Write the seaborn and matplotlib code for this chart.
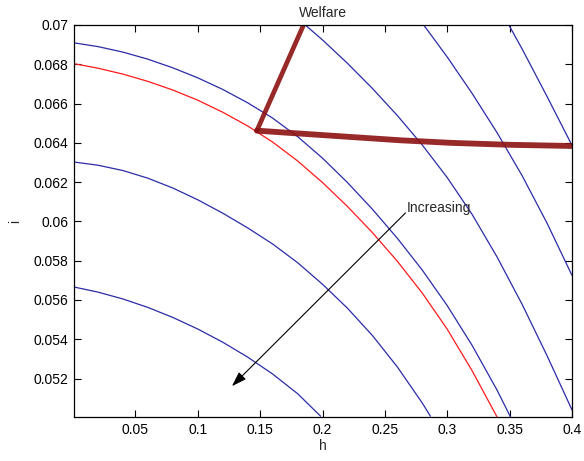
import numpy as np
import pandas as pd
import matplotlib
matplotlib.use("Agg")
import matplotlib.pyplot as plt
import seaborn as sns

# Welfare contour levels, traced as (h, i) pairs
curve_e_h = [0.0, 0.02, 0.04, 0.06, 0.08, 0.10, 0.12, 0.14, 0.16, 0.18, 0.1985]
curve_e_i = [0.05667, 0.05640, 0.05605, 0.05562, 0.05511, 0.05452, 0.05385,
             0.05309, 0.05223, 0.05123, 0.05008]

curve_d_h = [0.0, 0.02, 0.04, 0.06, 0.08, 0.10, 0.12, 0.14, 0.16, 0.18, 0.20,
             0.22, 0.24, 0.26, 0.28, 0.2865]
curve_d_i = [0.06303, 0.06286, 0.06259, 0.06220, 0.06170, 0.06110, 0.06042,
             0.05967, 0.05885, 0.05790, 0.05680, 0.05558, 0.05419, 0.05259,
             0.05075, 0.05008]

curve_r_h = [0.0, 0.02, 0.04, 0.06, 0.08, 0.10, 0.12, 0.14, 0.16, 0.18, 0.20,
             0.22, 0.24, 0.26, 0.28, 0.30, 0.32, 0.34]
curve_r_i = [0.06804, 0.06780, 0.06750, 0.06713, 0.06669, 0.06617, 0.06556,
             0.06486, 0.06404, 0.06308, 0.06198, 0.06076, 0.05943, 0.05797,
             0.05635, 0.05451, 0.05239, 0.05003]

curve_a_h = [0.0, 0.02, 0.04, 0.06, 0.08, 0.10, 0.12, 0.14, 0.16, 0.18, 0.20,
             0.22, 0.24, 0.26, 0.28, 0.30, 0.32, 0.34, 0.3507]
curve_a_i = [0.06910, 0.06890, 0.06862, 0.06826, 0.06782, 0.06731, 0.06672,
             0.06604, 0.06526, 0.06432, 0.06322, 0.06198, 0.06062, 0.05914,
             0.05752, 0.05571, 0.05368, 0.05140, 0.05004]

curve_b_h = [0.1862, 0.20, 0.22, 0.24, 0.26, 0.28, 0.30, 0.32, 0.34, 0.36,
             0.38, 0.40]
curve_b_i = [0.0700, 0.06924, 0.06805, 0.06677, 0.06539, 0.06389, 0.06223,
             0.06035, 0.05818, 0.05578, 0.05316, 0.05040]

curve_c_h = [0.2811, 0.30, 0.32, 0.34, 0.36, 0.38, 0.40]
curve_c_i = [0.0700, 0.06837, 0.06651, 0.06451, 0.06233, 0.05991, 0.05725]

curve_f_h = [0.3494, 0.36, 0.38, 0.40]
curve_f_i = [0.0700, 0.06878, 0.06636, 0.06387]

# Policy path (thick line)
path_up_h = [0.1474, 0.1848]
path_up_i = [0.06462, 0.0700]
path_flat_h = [0.1474, 0.18, 0.2223, 0.2624, 0.3026, 0.35, 0.40]
path_flat_i = [0.06462, 0.06448, 0.06430, 0.06413, 0.06400, 0.06390, 0.06384]

x_ticks = [0.05, 0.1, 0.15, 0.2, 0.25, 0.3, 0.35, 0.4]
x_tick_labels = ["0.05", "0.1", "0.15", "0.2", "0.25", "0.3", "0.35", "0.4"]
y_ticks = [0.052, 0.054, 0.056, 0.058, 0.06, 0.062, 0.064, 0.066, 0.068, 0.07]
y_tick_labels = ["0.052", "0.054", "0.056", "0.058", "0.06", "0.062", "0.064",
                 "0.066", "0.068", "0.07"]

sns.set_style("ticks")
plt.rcParams["font.family"] = ["Liberation Sans", "DejaVu Sans"]

fig = plt.figure(figsize=(5.84, 4.61), dpi=100)
ax = fig.add_axes([74 / 584, 44 / 461, 498 / 584, 392 / 461])

blue = "#2b2ba8"
contours = [
    (curve_e_h, curve_e_i, blue),
    (curve_d_h, curve_d_i, blue),
    (curve_r_h, curve_r_i, "#ff1a1a"),
    (curve_a_h, curve_a_i, blue),
    (curve_b_h, curve_b_i, blue),
    (curve_c_h, curve_c_i, blue),
    (curve_f_h, curve_f_i, blue),
]
for hs, is_, col in contours:
    df = pd.DataFrame({"h": hs, "i": is_})
    sns.lineplot(data=df, x="h", y="i", color=col, linewidth=0.9, ax=ax,
                 estimator=None, sort=False)

path_col = "#8c1212"
for hs, is_, lw in [(path_up_h, path_up_i, 3.4), (path_flat_h, path_flat_i, 4.2)]:
    df = pd.DataFrame({"h": hs, "i": is_})
    sns.lineplot(data=df, x="h", y="i", color=path_col, linewidth=lw, ax=ax,
                 estimator=None, sort=False, alpha=0.9)

ax.annotate("", xy=(0.1274, 0.05161), xytext=(0.2665, 0.06043),
            arrowprops=dict(arrowstyle="-|>,head_length=0.9,head_width=0.3",
                            color="black", lw=0.8, shrinkA=0, shrinkB=0))
ax.text(0.2673, 0.06070, "Increasing", fontsize=10, ha="left", va="center")

ax.set_xlim(0.0008, 0.4)
ax.set_ylim(0.05004, 0.07)
ax.set_xticks(x_ticks)
ax.set_xticklabels(x_tick_labels)
ax.set_yticks(y_ticks)
ax.set_yticklabels(y_tick_labels)
ax.tick_params(direction="in", length=5, width=0.8, top=True, right=True,
               labelsize=10, colors="black", pad=4)
for s in ax.spines.values():
    s.set_visible(True)
    s.set_linewidth(0.9)
    s.set_color("black")
ax.set_xlabel("h", fontsize=10, labelpad=2)
ax.set_ylabel("i", fontsize=10, labelpad=8)
ax.set_title("Welfare", fontsize=10, pad=6)

fig.savefig("out.png", dpi=100)
